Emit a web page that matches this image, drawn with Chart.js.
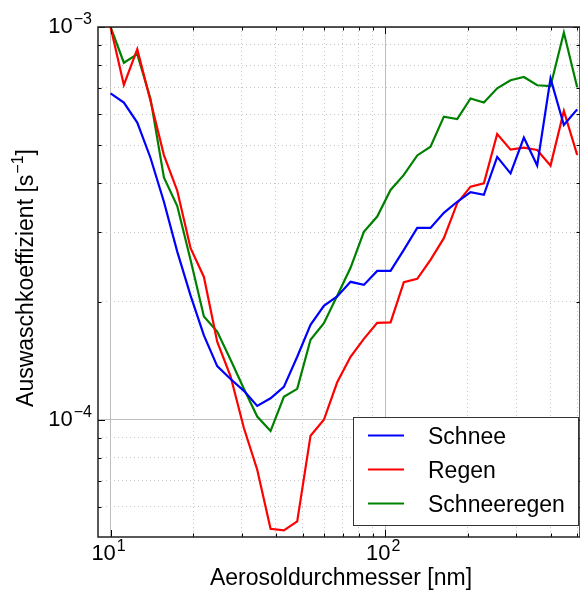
<!DOCTYPE html>
<html>
<head>
<meta charset="utf-8">
<script src="https://cdn.jsdelivr.net/npm/chart.js@4.4.0/dist/chart.umd.min.js"></script>
<style>
  html, body { margin: 0; padding: 0; background: #fff; }
  #wrap { width: 580px; height: 591px; }
</style>
</head>
<body>
<div id="wrap"><canvas id="chart"></canvas></div>
<script>
// Aerosoldurchmesser [nm]
const durchmesser = [10.0, 11.18, 12.51, 13.98, 15.64, 17.49, 19.56, 21.87, 24.45, 27.35,
  30.58, 34.20, 38.24, 42.76, 47.82, 53.47, 59.80, 66.87, 74.78, 83.62,
  93.51, 104.6, 116.9, 130.8, 146.2, 163.5, 182.9, 204.5, 228.7, 255.7,
  286.0, 319.8, 357.6, 399.9, 447.2, 500.0];

// Auswaschkoeffizient [1/s]
const schnee = [6.78e-4, 6.42e-4, 5.71e-4, 4.64e-4, 3.59e-4, 2.68e-4, 2.07e-4, 1.64e-4, 1.37e-4, 1.27e-4,
  1.185e-4, 1.085e-4, 1.134e-4, 1.213e-4, 1.447e-4, 1.745e-4, 1.95e-4, 2.06e-4, 2.245e-4, 2.205e-4,
  2.394e-4, 2.394e-4, 2.708e-4, 3.08e-4, 3.08e-4, 3.363e-4, 3.59e-4, 3.80e-4, 3.74e-4, 4.67e-4,
  4.24e-4, 5.23e-4, 4.44e-4, 7.40e-4, 5.63e-4, 6.17e-4];
const regen = [1.0e-3, 7.12e-4, 8.78e-4, 6.48e-4, 4.72e-4, 3.83e-4, 2.735e-4, 2.31e-4, 1.58e-4, 1.29e-4,
  9.53e-5, 7.46e-5, 5.28e-5, 5.23e-5, 5.51e-5, 9.11e-5, 1.0e-4, 1.246e-4, 1.447e-4, 1.607e-4,
  1.765e-4, 1.77e-4, 2.24e-4, 2.285e-4, 2.553e-4, 2.90e-4, 3.56e-4, 3.923e-4, 4.0e-4, 5.34e-4,
  4.874e-4, 4.932e-4, 4.864e-4, 4.437e-4, 6.114e-4, 4.724e-4];
const schneeregen = [1.0e-3, 8.11e-4, 8.53e-4, 6.56e-4, 4.14e-4, 3.50e-4, 2.553e-4, 1.831e-4, 1.677e-4, 1.422e-4,
  1.199e-4, 1.019e-4, 9.36e-5, 1.144e-4, 1.199e-4, 1.598e-4, 1.762e-4, 2.068e-4, 2.437e-4, 3.009e-4,
  3.291e-4, 3.848e-4, 4.202e-4, 4.71e-4, 4.959e-4, 5.912e-4, 5.832e-4, 6.578e-4, 6.425e-4, 6.982e-4,
  7.318e-4, 7.459e-4, 7.107e-4, 7.07e-4, 9.683e-4, 7.024e-4];

const labels = ['Schnee', 'Regen', 'Schneeregen'];
const farben = ['#0000ff', '#ff0000', '#008000'];

// tick positions (grid) and the labelled decades
const xTicks = [10, 20, 30, 40, 50, 60, 70, 80, 90, 100, 200, 300, 400, 500];
const yTicks = [6e-5, 7e-5, 8e-5, 9e-5, 1e-4, 2e-4, 3e-4, 4e-4, 5e-4, 6e-4, 7e-4, 8e-4, 9e-4, 1e-3];
const xDekaden = [1, 2];
const yDekaden = [-4, -3];

const FONT = '"Liberation Sans", Arial, Helvetica, sans-serif';

function isDecade(v) {
  const l = Math.log10(v);
  return Math.abs(l - Math.round(l)) < 1e-6;
}

function toPoints(ys) {
  return durchmesser.map((d, i) => ({ x: d, y: ys[i] }));
}

// draws 10^exp with a raised exponent
function drawPower(ctx, exp, x, y, align) {
  const expText = exp < 0 ? '\u2212' + Math.abs(exp) : String(exp);
  ctx.font = '22px ' + FONT;
  const wBase = ctx.measureText('10').width;
  ctx.font = '16px ' + FONT;
  const wExp = ctx.measureText(expText).width;
  const total = wBase + 1 + wExp;
  const x0 = align === 'center' ? x - total / 2 : x - total;
  ctx.textAlign = 'left';
  ctx.textBaseline = 'alphabetic';
  ctx.font = '22px ' + FONT;
  ctx.fillText('10', x0, y);
  ctx.font = '16px ' + FONT;
  ctx.fillText(expText, x0 + wBase + 1, y - 9);
}

const rahmenPlugin = {
  id: 'rahmen',
  afterDraw(chart) {
    const ctx = chart.ctx;
    const a = chart.chartArea;
    const xs = chart.scales.x, ys = chart.scales.y;
    ctx.save();

    // inward tick marks on all four sides
    ctx.strokeStyle = '#000';
    ctx.lineWidth = 1;
    ctx.beginPath();
    xTicks.forEach(v => {
      const px = Math.round(xs.getPixelForValue(v)) + 0.5;
      const len = isDecade(v) ? 7 : 3.5;
      ctx.moveTo(px, a.bottom); ctx.lineTo(px, a.bottom - len);
      ctx.moveTo(px, a.top); ctx.lineTo(px, a.top + len);
    });
    yTicks.forEach(v => {
      const py = Math.round(ys.getPixelForValue(v)) + 0.5;
      const len = isDecade(v) ? 7 : 3.5;
      ctx.moveTo(a.left, py); ctx.lineTo(a.left + len, py);
      ctx.moveTo(a.right, py); ctx.lineTo(a.right - len, py);
    });
    ctx.stroke();

    // frame
    ctx.strokeStyle = '#222';
    ctx.lineWidth = 1.5;
    ctx.strokeRect(a.left, a.top, a.right - a.left, a.bottom - a.top);

    // tick labels
    ctx.fillStyle = '#000';
    xDekaden.forEach(e => drawPower(ctx, e, xs.getPixelForValue(Math.pow(10, e)) - 2, a.bottom + 23, 'center'));
    yDekaden.forEach(e => drawPower(ctx, e, a.left - 6, ys.getPixelForValue(Math.pow(10, e)) + 6, 'right'));

    // axis titles
    ctx.font = '23px ' + FONT;
    ctx.textAlign = 'center';
    ctx.textBaseline = 'alphabetic';
    ctx.fillText('Aerosoldurchmesser [nm]', (a.left + a.right) / 2 + 2, a.bottom + 48);

    ctx.save();
    ctx.translate(33, (a.top + a.bottom) / 2 - 4);
    ctx.rotate(-Math.PI / 2);
    const t1 = 'Auswaschkoeffizient [s', t2 = '\u22121', t3 = ']';
    ctx.font = '23px ' + FONT;
    const w1 = ctx.measureText(t1).width, w3 = ctx.measureText(t3).width;
    ctx.font = '16px ' + FONT;
    const w2 = ctx.measureText(t2).width;
    let x0 = -(w1 + w2 + w3 + 1) / 2;
    ctx.textAlign = 'left';
    ctx.font = '23px ' + FONT;
    ctx.fillText(t1, x0, 0);
    ctx.font = '16px ' + FONT;
    ctx.fillText(t2, x0 + w1 + 1, -10);
    ctx.font = '23px ' + FONT;
    ctx.fillText(t3, x0 + w1 + w2 + 1, 0);
    ctx.restore();

    // legend box, lower right
    const lx = a.right - 226.5, ly = a.bottom - 119.5, lw = 225, lh = 108;
    ctx.fillStyle = '#fff';
    ctx.fillRect(lx, ly, lw, lh);
    ctx.strokeStyle = '#333';
    ctx.lineWidth = 1;
    ctx.strokeRect(lx, ly, lw, lh);
    chart.data.datasets.forEach((ds, i) => {
      const yy = ly + 18 + i * 34;
      ctx.strokeStyle = ds.borderColor;
      ctx.lineWidth = 2;
      ctx.beginPath();
      ctx.moveTo(lx + 14.5, yy);
      ctx.lineTo(lx + 50.5, yy);
      ctx.stroke();
      ctx.fillStyle = '#000';
      ctx.font = '23px ' + FONT;
      ctx.textAlign = 'left';
      ctx.fillText(ds.label, lx + 74.5, yy + 8.5);
    });

    ctx.restore();
  }
};

const gridColor = ctx => isDecade(ctx.tick.value) ? '#bdbdbd' : '#c6c6c6';
const gridDash = ctx => (ctx.tick && isDecade(ctx.tick.value)) ? [] : [1, 3];

new Chart(document.getElementById('chart'), {
  type: 'line',
  data: {
    datasets: [schnee, regen, schneeregen].map((ys, i) => ({
      label: labels[i],
      data: toPoints(ys),
      borderColor: farben[i],
      backgroundColor: farben[i],
      borderWidth: 2.2,
      pointRadius: 0,
      tension: 0,
      fill: false
    }))
  },
  options: {
    responsive: true,
    maintainAspectRatio: false,
    animation: false,
    devicePixelRatio: 1,
    layout: { padding: { left: 98, top: 27, right: 0, bottom: 54 } },
    plugins: {
      legend: { display: false },
      tooltip: { enabled: false }
    },
    scales: {
      x: {
        type: 'logarithmic',
        min: 9,
        max: 512,
        afterBuildTicks: s => { s.ticks = xTicks.map(v => ({ value: v })); },
        ticks: { display: false },
        grid: { color: gridColor, lineWidth: 1, drawTicks: false },
        border: { display: false, dash: gridDash }
      },
      y: {
        type: 'logarithmic',
        min: 5.03e-5,
        max: 1e-3,
        afterBuildTicks: s => { s.ticks = yTicks.map(v => ({ value: v })); },
        ticks: { display: false },
        grid: { color: gridColor, lineWidth: 1, drawTicks: false },
        border: { display: false, dash: gridDash }
      }
    }
  },
  plugins: [rahmenPlugin]
});
</script>
</body>
</html>
